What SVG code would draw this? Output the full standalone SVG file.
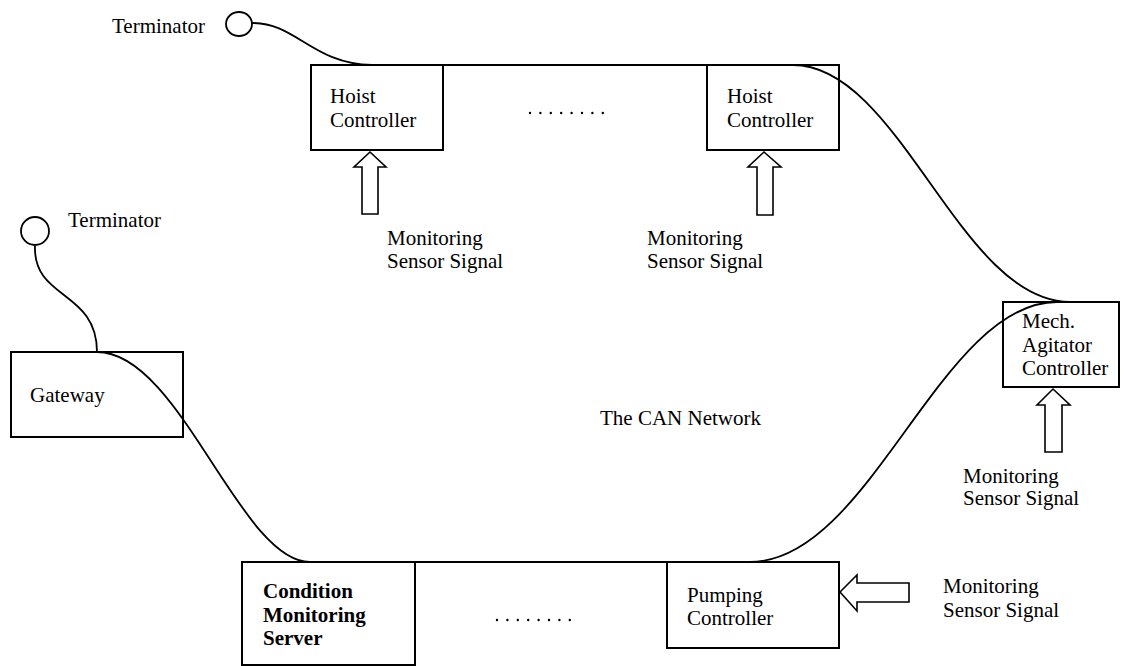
<svg xmlns="http://www.w3.org/2000/svg" width="1131" height="666" viewBox="0 0 1131 666">
<style>
.box{fill:none;stroke:#000;stroke-width:2}
.bus{fill:none;stroke:#000;stroke-width:1.8}
.term{fill:#fff;stroke:#000;stroke-width:1.8}
.arr{fill:#fff;stroke:#000;stroke-width:1.6;stroke-linejoin:miter}
text{font-family:"Liberation Serif","Times New Roman",serif;font-size:21px;fill:#000}
.b{font-weight:bold}
.dots{fill:none;stroke:#000;stroke-width:2.4;stroke-linecap:round;stroke-dasharray:0 10.4}
</style>
<rect width="1131" height="666" fill="#fff"/>
<g id="connectors">
<path class="bus" d="M251,23 C296,22 312,64 372,65 L793,65"/>
<path class="bus" d="M793,65 C900,65 960,302 1070,302"/>
<path class="bus" d="M35,246 C33,300 97,290 97,352"/>
<path class="bus" d="M97,352 C180,352 240,562 310,562 L757,562"/>
<path class="bus" d="M750,562 C870,562 940,302 1057,302"/>
</g>
<g id="terminator1">
<ellipse class="term" cx="239" cy="24" rx="13" ry="12"/>
<text x="112" y="33">Terminator</text>
</g>
<g id="terminator2">
<circle class="term" cx="35" cy="231" r="14"/>
<text x="68" y="227">Terminator</text>
</g>
<g id="hoist1">
<rect class="box" x="311" y="65" width="132" height="85"/>
<text x="330" y="103">Hoist</text>
<text x="330" y="127">Controller</text>
</g>
<g id="hoist2">
<rect class="box" x="707" y="65" width="132" height="85"/>
<text x="727" y="103">Hoist</text>
<text x="727" y="127">Controller</text>
</g>
<g id="gateway">
<rect class="box" x="11" y="352" width="172" height="85"/>
<text x="30" y="402">Gateway</text>
</g>
<g id="mech">
<rect class="box" x="1003" y="302" width="116" height="85"/>
<text x="1022" y="328">Mech.</text>
<text x="1022" y="352">Agitator</text>
<text x="1022" y="375">Controller</text>
</g>
<g id="cms">
<rect class="box" x="242" y="562" width="173" height="103"/>
<text class="b" x="263" y="598">Condition</text>
<text class="b" x="263" y="622">Monitoring</text>
<text class="b" x="263" y="645">Server</text>
</g>
<g id="pumping">
<rect class="box" x="667" y="562" width="172" height="86"/>
<text x="687" y="602">Pumping</text>
<text x="687" y="625">Controller</text>
</g>
<g id="signals">
<path class="arr" d="M370,152 L386,167 L378,167 L378,214 L362,214 L362,167 L354,167 Z"/>
<path class="arr" d="M764,152 L781,167 L773,167 L773,215 L757,215 L757,167 L748,167 Z"/>
<path class="arr" d="M1053,389 L1070,405 L1062,405 L1062,452 L1045,452 L1045,405 L1037,405 Z"/>
<path class="arr" d="M840,592 L857,575 L857,583 L909,583 L909,602 L857,602 L857,611 Z"/>
<text x="387" y="245">Monitoring</text>
<text x="387" y="268">Sensor Signal</text>
<text x="647" y="245">Monitoring</text>
<text x="647" y="268">Sensor Signal</text>
<text x="963" y="483">Monitoring</text>
<text x="963" y="505">Sensor Signal</text>
<text x="943" y="593">Monitoring</text>
<text x="943" y="617">Sensor Signal</text>
</g>
<g id="labels">
<text x="600" y="425">The CAN Network</text>
<path class="dots" d="M530,113 L604,113"/>
<path class="dots" d="M497,620 L571,620"/>
</g>
</svg>
